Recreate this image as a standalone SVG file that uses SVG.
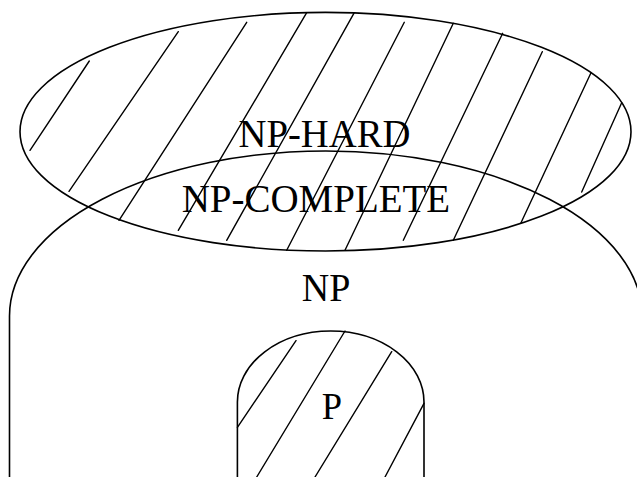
<svg xmlns="http://www.w3.org/2000/svg" width="637" height="477" viewBox="0 0 637 477">
<style>
.shape{fill:none;stroke:#000;stroke-width:1.6}
.hatch{fill:none;stroke:#000;stroke-width:1.4;stroke-linecap:round}
.lbl{font-family:"Liberation Serif","Times New Roman",serif;fill:#000;text-anchor:start}
</style>
<rect width="637" height="477" fill="#fff"/>
<g id="np">
<path class="shape" d="M 9.5 477 L 9.5 316 A 316.3 165 0 0 1 642.1 316 L 642.1 477"/>
</g>
<g id="np-hard">
<ellipse class="shape" cx="325.5" cy="131.7" rx="305.5" ry="119.3"/>
<g class="hatch">
<line x1="89.3" y1="61" x2="30" y2="150.3"/>
<line x1="178.3" y1="31.7" x2="69" y2="191.3"/>
<line x1="246.7" y1="22.3" x2="119" y2="220.3"/>
<line x1="306.7" y1="12.7" x2="178.3" y2="230.3"/>
<line x1="354.3" y1="12.7" x2="226.7" y2="240.3"/>
<line x1="404.3" y1="22.3" x2="286.7" y2="250.3"/>
<line x1="453.3" y1="23.3" x2="345" y2="250.3"/>
<line x1="502.7" y1="33.3" x2="403.3" y2="240.3"/>
<line x1="542.3" y1="51.7" x2="453.3" y2="240.3"/>
<line x1="591" y1="72.7" x2="521" y2="222.7"/>
<line x1="621.7" y1="102.7" x2="581.7" y2="192"/>
</g>
</g>
<g id="p">
<path class="shape" d="M 237.4 477 L 237.4 402 A 93.3 71 0 0 1 424 402 L 424 477"/>
<g class="hatch">
<line x1="296" y1="340.7" x2="237.4" y2="427.3"/>
<line x1="345" y1="331" x2="256.7" y2="477"/>
<line x1="391.7" y1="351.7" x2="315" y2="477"/>
<line x1="424" y1="403.3" x2="385" y2="477"/>
</g>
</g>
<g id="labels">
<text class="lbl" x="238.5" y="146.5" font-size="41" textLength="172" lengthAdjust="spacingAndGlyphs">NP-HARD</text>
<text class="lbl" x="181.7" y="211.5" font-size="40" textLength="268.5" lengthAdjust="spacingAndGlyphs">NP-COMPLETE</text>
<text class="lbl" x="301.7" y="301" font-size="40" textLength="48.6" lengthAdjust="spacingAndGlyphs">NP</text>
<text class="lbl" x="321.7" y="419" font-size="38" textLength="20.3" lengthAdjust="spacingAndGlyphs">P</text>
</g>
<g id="connectors"/>
</svg>
